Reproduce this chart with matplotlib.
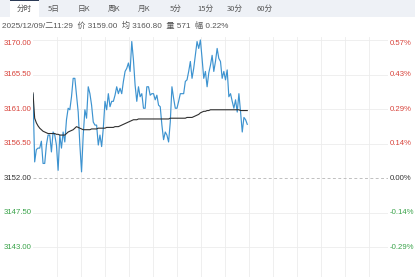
import numpy as np
import matplotlib
matplotlib.use("Agg")
import matplotlib.pyplot as plt
from matplotlib.patches import Rectangle
from matplotlib.transforms import blended_transform_factory

# ---------------- data ----------------
tabs = ["分时", "5日", "日K", "周K", "月K", "5分", "15分", "30分", "60分"]
info_text = "2025/12/09/二11:29  价 3159.00  均 3160.80  量 571  幅 0.22%"
prev_close = 3152.00

price = [
    3162.9, 3154.1, 3155.7, 3155.9, 3155.9, 3156.8, 3153.9, 3153.9, 3156.3, 3157.6,
    3157.6, 3155.4, 3158.0, 3157.6, 3156.3, 3153.0, 3157.6, 3155.9, 3158.0, 3156.7,
    3159.6, 3161.1, 3160.9, 3162.6, 3165.0, 3165.0, 3162.8, 3160.6, 3156.3, 3152.8,
    3157.6, 3160.9, 3159.8,
    3163.9, 3163.0, 3161.5, 3159.3, 3158.9, 3158.9, 3156.3, 3157.6, 3156.1, 3158.5,
    3162.0, 3160.9, 3163.0, 3161.3, 3162.0, 3162.0, 3162.8, 3163.9, 3163.0, 3163.7,
    3163.0, 3164.6, 3165.9, 3166.3, 3167.0, 3165.9, 3169.8, 3167.4, 3164.1, 3162.0,
    3163.9, 3162.6, 3163.0, 3161.1,
    3161.1, 3163.9, 3163.9, 3162.8, 3163.0, 3163.0, 3162.2, 3162.8, 3161.5, 3161.3,
    3158.9, 3157.0, 3158.0, 3157.6, 3156.7, 3159.3, 3163.9, 3162.4, 3161.1, 3161.1,
    3162.0, 3163.0, 3163.0, 3163.0, 3164.6, 3164.8, 3165.9, 3167.2, 3165.0, 3166.3,
    3168.0, 3169.8, 3168.9, 3170.0,
    3167.6, 3165.0, 3165.9, 3163.9, 3165.7, 3166.7, 3168.0, 3165.9, 3167.2, 3168.9,
    3167.6, 3167.2, 3165.0, 3165.9, 3164.8, 3166.1, 3162.6, 3163.0, 3162.0, 3161.1,
    3162.2, 3160.6, 3163.0, 3160.6, 3158.0, 3159.9, 3159.6, 3159.0,
]

avg_price = [
    3163.1, 3159.8, 3159.2, 3158.8, 3158.5, 3158.3, 3158.1, 3158.0, 3157.9, 3157.8,
    3157.8, 3157.8, 3157.8, 3157.8, 3157.7, 3157.7, 3157.6, 3157.6, 3157.6, 3157.6,
    3157.8, 3158.0, 3158.1, 3158.2, 3158.3, 3158.5, 3158.7, 3158.6, 3158.5, 3158.4,
    3158.3, 3158.3, 3158.3, 3158.3, 3158.3, 3158.4, 3158.4, 3158.4, 3158.4, 3158.5,
    3158.5, 3158.5, 3158.5, 3158.5, 3158.6, 3158.6, 3158.6, 3158.6, 3158.6, 3158.7,
    3158.7, 3158.7, 3158.8, 3158.9, 3159.0, 3159.1, 3159.2, 3159.3, 3159.4, 3159.5,
    3159.6, 3159.6, 3159.6, 3159.7, 3159.7, 3159.7, 3159.7, 3159.7, 3159.7, 3159.7,
    3159.7, 3159.7, 3159.7, 3159.7, 3159.7, 3159.7, 3159.7, 3159.7, 3159.7, 3159.7,
    3159.7, 3159.7, 3159.8, 3159.8, 3159.8, 3159.8, 3159.8, 3159.8, 3159.8, 3159.8,
    3159.8, 3159.8, 3159.9, 3159.9, 3159.9, 3159.9, 3160.0, 3160.1, 3160.2, 3160.3,
    3160.5, 3160.6, 3160.7, 3160.7, 3160.8, 3160.8, 3160.9, 3160.9, 3160.9, 3160.9,
    3160.9, 3160.9, 3160.9, 3160.9, 3160.9, 3160.9, 3160.9, 3160.9, 3160.9, 3160.9,
    3160.9, 3160.9, 3160.9, 3160.9, 3160.8, 3160.8, 3160.8, 3160.8, 3160.8,
]

level_values = [3170.00, 3165.50, 3161.00, 3156.50, 3152.00, 3147.50, 3143.00, 3138.50]
left_labels = ["3170.00", "3165.50", "3161.00", "3156.50", "3152.00", "3147.50", "3143.00", ""]
right_labels = ["0.57%", "0.43%", "0.29%", "0.14%", "0.00%", "-0.14%", "-0.29%", ""]

# ---------------- figure ----------------
W, H = 415, 277
fig = plt.figure(figsize=(W / 100, H / 100), dpi=100)
fig.patch.set_facecolor("white")

def fx(x):
    return x / W

def fy(y):
    return 1 - y / H

FONT = ["Liberation Sans", "Noto Sans CJK SC", "DejaVu Sans"]
CJK = ["Noto Sans CJK SC", "DejaVu Sans"]

# tab bar
fig.patches.append(Rectangle((0, fy(17)), 1, 17 / H, transform=fig.transFigure,
                             facecolor="#eef1f6", edgecolor="none", zorder=0))
fig.patches.append(Rectangle((fx(10), fy(17)), 29 / W, 17 / H, transform=fig.transFigure,
                             facecolor="white", edgecolor="none", zorder=1))
fig.patches.append(Rectangle((fx(10), fy(1.3)), 29 / W, 1.3 / H, transform=fig.transFigure,
                             facecolor="#2b3a55", edgecolor="none", zorder=2))
tab_x = [24, 54, 84, 114, 144, 176, 205, 235, 265]
for t, x in zip(tabs, tab_x):
    fig.text(fx(x), fy(8.5), t, ha="center", va="center", fontsize=5.5,
             color="#555555", family=CJK, zorder=3)

fig.text(fx(2), fy(25.5), info_text, ha="left", va="center", fontsize=5.85,
         color="#555555", family=FONT)

# main axes: plot from x=33 to x=388 px, y: 3170 at 40px, 7.667 px per point
px_per_idx = 1.674
ax_left, ax_right = 33, 388
ax_top, ax_bot = 37, 290
ax = fig.add_axes([fx(ax_left), fy(ax_bot), (ax_right - ax_left) / W, (ax_bot - ax_top) / H])
ax.set_facecolor("none")
ppu = 7.667
ax.set_ylim(3170 - (ax_bot - 40) / ppu, 3170 + (40 - ax_top) / ppu)
ax.set_xlim(0, (ax_right - ax_left) / px_per_idx)
for s in ax.spines.values():
    s.set_visible(False)
ax.set_xticks([])
ax.set_yticks([])

# grid
for v in level_values:
    if v == prev_close:
        ax.axhline(v, color="#c0c0c0", lw=0.7, ls=(0, (3, 2.5)), zorder=1)
    else:
        ax.axhline(v, color="#ececec", lw=0.6, zorder=0)
xmax = (ax_right - ax_left) / px_per_idx
for gx in np.arange(24 / px_per_idx, xmax, 24 / px_per_idx):
    ax.axvline(gx, color="#ececec", lw=0.6, zorder=0)

idx = np.arange(len(price))
ax.plot(idx, price, color="#3d93d0", lw=0.85, zorder=3)
ax.plot(np.arange(len(avg_price)), avg_price, color="#2f2f2f", lw=0.8, zorder=4)

# axis labels
trL = blended_transform_factory(fig.transFigure, ax.transData)
for v, ll, rl in zip(level_values, left_labels, right_labels):
    if not ll:
        continue
    if v > prev_close:
        c = "#d8433b"
    elif v < prev_close:
        c = "#3aa34a"
    else:
        c = "#333333"
    va = "top" if v == level_values[0] else "center"
    ax.text(fx(4), v, ll, transform=trL, ha="left", va=va, fontsize=5.6,
            color=c, family=FONT, clip_on=False)
    ax.text(fx(390), v, rl, transform=trL, ha="left", va=va, fontsize=5.6,
            color=c, family=FONT, clip_on=False)

fig.savefig("out.png", dpi=100)
